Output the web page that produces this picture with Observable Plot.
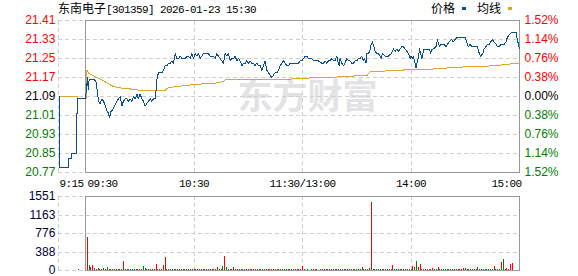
<!DOCTYPE html>
<html><head><meta charset="utf-8">
<script src="https://cdn.jsdelivr.net/npm/d3@7"></script>
<script src="https://cdn.jsdelivr.net/npm/@observablehq/plot@0.6"></script>
<style>
body{margin:0;background:#fff;}
#wrap{position:relative;width:578px;height:276px;overflow:hidden;background:#fff;}
#wrap svg{position:absolute;left:0;overflow:visible;}
.t{position:absolute;white-space:nowrap;color:#000;font-size:12px;line-height:14px;}
.cjk{font-family:"Noto Sans CJK SC";font-size:12px;}
.mono{font-family:"Liberation Mono";font-size:11px;letter-spacing:-0.6px;}
.sw{position:absolute;width:4px;height:3px;}
</style></head>
<body><div id="wrap">
<div class="t" style="left:58px;top:1px;"><span class="cjk">东南电子</span><span class="mono">[301359] 2026-01-23 15:30</span></div>
<div class="t cjk" style="left:431px;top:1px;">价格</div>
<div class="sw" style="left:462px;top:7px;background:#0b4f9c;"></div>
<div class="t cjk" style="left:477px;top:1px;">均线</div>
<div class="sw" style="left:508px;top:7px;background:#e0a526;"></div>
</div>
<script>
// ---------- data ----------
const preClose = 21.09;
const priceTicks = [21.41,21.33,21.25,21.17,21.09,21.01,20.93,20.85,20.77];
const pctLabels = ["1.52%","1.14%","0.76%","0.38%","0.00%","0.38%","0.76%","1.14%","1.52%"];
const timeTicks = [-15,0,60,120,180,240];
const timeLabels = ["9:15","09:30","10:30","11:30/13:00","14:00","15:00"];
const volTicks = [0,387.75,775.5,1163.25,1551];
const volLabels = ["0","388","776","1163","1551"];

// minutes from 09:30 (lunch removed), negative = call auction
const priceMinutes = [
-14.5,-14.5,-9.2,-9.2,-7.9,-7.9,-5,-5,-4.4,-4.4,
0,1.1,1.5,2,3.2,5,5.9,6.6,7.2,8.1,
9.1,10,10.9,11.8,12.7,13.3,14.2,14.9,16,17.4,
18.2,19.2,20.1,21,21.9,22.9,23.8,24.7,25.6,26.5,
27.5,28.4,29.3,30.2,31.2,32.1,33,33.9,34.8,35.8,
36.7,37.6,38.5,39.1,39.6,40.4,41.3,42.2,43.1,44.1,
45,45.9,46.8,47.8,48.6,49.6,50.5,51.4,52.4,53.3,
54.2,55.1,56.1,56.9,57.9,58.8,59.7,60.6,61.6,62.5,
63.4,64.3,65.2,66.2,67.1,68,68.9,69.9,70.8,71.7,
72.6,73.5,74.5,75.4,76.3,77.2,78.2,79,80,80.9,
81.8,82.8,83.7,84.6,85.5,86.5,87.3,88.3,89.2,90.1,
91,92,92.9,93.8,94.7,95.6,96.6,97.5,98.4,99.3,
100.3,101.2,102.1,103,103.9,104.9,105.8,106.7,107.6,108.6,
109.5,110.4,111.3,112.2,113.2,114.1,115.9,117.7,118.7,119.6,
120.5,121.5,122.4,123.3,124.2,125.1,126.1,127,127.9,128.8,
130.7,131.6,132.5,133.4,134.3,135.3,136.2,137.1,138,139,
139.5,140.3,140.8,141.7,142.6,143.5,144.5,145.4,146.3,147.2,
148.2,149.1,150,150.9,151.8,152.8,153.7,154.3,155.1,155.6,
156.5,157.5,158,158.7,159.5,160.2,161.2,162,163,163.5,
164.2,165.7,167.5,169,169.7,170.3,171.2,172.1,173,174,
174.9,175.8,176.7,177.7,178.6,179.5,180.1,180.6,181.3,182.2,
182.8,183.5,184.1,184.7,185.4,186,186.5,187.2,187.8,188.3,
189.1,190.2,190.9,191.5,192.4,193.9,194.6,195.7,196.5,197.6,
198.3,199.4,200.1,201.2,202.5,203.4,204.4,205.6,207.1,209.9,
210.8,211.7,212.7,213.6,215.4,216.7,217.8,218.6,219.7,220.4,
221.5,222.2,223.3,224.1,225.2,225.9,227,227.8,228.8,229.6,
230.7,231.5,232.6,233.3,234.4,235.7,237,238.1,238.8,240];
const prices = [
21.09,20.79,20.79,20.83,20.83,20.85,20.85,21.02,21.02,21.08,
21.08,21.17,21.12,21.16,21.16,21.16,21.15,21.11,21.07,21.06,
21.08,21.07,21.05,21.03,21.02,21.00,21.03,21.03,21.05,21.07,
21.08,21.09,21.05,21.07,21.08,21.08,21.07,21.08,21.07,21.09,
21.08,21.10,21.08,21.10,21.08,21.07,21.05,21.06,21.07,21.08,
21.07,21.08,21.08,21.12,21.17,21.19,21.19,21.19,21.20,21.22,
21.22,21.23,21.23,21.24,21.23,21.27,21.25,21.25,21.26,21.25,
21.25,21.25,21.26,21.26,21.25,21.27,21.25,21.27,21.26,21.27,
21.25,21.26,21.27,21.27,21.27,21.27,21.26,21.26,21.26,21.25,
21.27,21.26,21.25,21.24,21.23,21.27,21.26,21.27,21.24,21.25,
21.25,21.26,21.24,21.25,21.24,21.22,21.23,21.23,21.24,21.23,
21.24,21.23,21.23,21.22,21.23,21.22,21.22,21.20,21.22,21.24,
21.20,21.19,21.18,21.17,21.18,21.19,21.19,21.20,21.22,21.23,
21.24,21.23,21.22,21.22,21.23,21.23,21.23,21.23,21.24,21.24,
21.25,21.26,21.26,21.25,21.25,21.25,21.24,21.24,21.24,21.24,
21.23,21.23,21.24,21.23,21.24,21.24,21.25,21.24,21.24,21.26,
21.24,21.22,21.25,21.23,21.22,21.23,21.25,21.24,21.24,21.23,
21.23,21.24,21.24,21.25,21.25,21.26,21.24,21.25,21.23,21.27,
21.27,21.29,21.31,21.32,21.30,21.28,21.27,21.27,21.26,21.25,
21.27,21.26,21.26,21.27,21.28,21.29,21.28,21.29,21.28,21.29,
21.30,21.30,21.29,21.28,21.27,21.25,21.26,21.25,21.26,21.23,
21.21,21.24,21.25,21.29,21.27,21.25,21.27,21.29,21.29,21.29,
21.29,21.29,21.27,21.29,21.29,21.30,21.33,21.30,21.31,21.31,
21.31,21.30,21.31,21.32,21.33,21.32,21.33,21.34,21.34,21.34,
21.32,21.30,21.31,21.30,21.30,21.30,21.27,21.26,21.27,21.29,
21.30,21.31,21.31,21.32,21.33,21.32,21.31,21.30,21.30,21.31,
21.31,21.31,21.32,21.34,21.35,21.36,21.36,21.36,21.33,21.29];

const avgMinutes = [-14.5,-4.4,-4.4,0.8,0.8,1.7,3.5,5.4,9.1,12.7,15.5,20.1,25.6,31.2,38.5,44.1,45,49.6,55.1,62.5,71.7,76.3,77.2,87.3,113.2,119.6,134.3,150,155.6,157.5,171.2,176.7,190.9,203.4,210.8,225.5,230.2,234.8,240];
const avgPrices = [21.09,21.09,21.08,21.08,21.202,21.189,21.181,21.174,21.160,21.143,21.132,21.125,21.121,21.115,21.114,21.115,21.125,21.132,21.136,21.142,21.146,21.153,21.160,21.163,21.163,21.167,21.170,21.177,21.178,21.195,21.199,21.202,21.205,21.212,21.215,21.219,21.223,21.227,21.228];

// volume for minutes 1..240 (hands), r = up, g = down
const volumes = [
696,105,60,100,50,30,35,30,25,40,
30,70,24,20,22,18,25,20,22,20,
197,20,22,30,18,25,20,22,18,20,
24,84,40,20,22,18,20,22,126,20,
22,25,105,281,22,20,22,18,20,22,
20,18,22,20,24,20,18,22,20,22,
20,18,22,20,25,20,18,22,20,22,
20,22,63,30,22,84,295,56,24,22,
20,63,22,20,22,20,18,22,20,22,
20,18,22,20,22,20,18,22,20,22,
20,22,18,20,22,20,22,20,18,22,
20,22,20,22,20,22,20,18,22,84,
20,0,22,0,22,20,22,20,0,22,
20,22,20,22,20,18,22,20,22,20,
22,20,22,20,22,20,18,22,20,22,
20,22,63,20,22,20,42,1434,22,20,
22,20,22,20,22,20,22,20,22,105,
22,20,22,20,22,20,22,20,22,20,
84,56,190,56,126,22,20,22,20,22,
20,42,22,20,63,22,20,22,20,22,
20,22,20,22,20,22,20,22,42,42,
22,20,22,20,22,20,63,22,20,22,
20,22,20,22,20,84,22,20,22,169,
232,20,42,21,126,148,0,0,0,232];
const volDirs =
"rgrrgggrrg"+"ggrrrrrrrg"+"rrrgrrgrrr"+"rggrrrrrrr"+"grrrrggrgg"+"grggrggrgr"+
"rrrrrrrrrr"+"rrrgrgrggr"+"rrrrrrrrgr"+"rrrrrrgrrr"+"rrrrrrrrrr"+"rrrrgrrrrr"+
"rrgrrrrrrr"+"rrrrrgrrrr"+"rgrrrrggrr"+"rrrgrgrrgg"+"gggrgggrrr"+"rrrrgrrrgg"+
"rggrrggrgr"+"rrrrrrggrr"+"rrrrrrrrrr"+"rgrrrrrgrr"+"rrgrgrgrgr"+"grrrrrrrrg";
const auctionVolMinute = -4, auctionVol = 20, auctionDir = "g";

// ---------- rendering ----------
const RED = "#ff0000", GREEN = "#008000", BLUE = "#0b4f9c", GOLD = "#e0a526";
const GRID = "#cfcfcf", FRAME = "#999999";
const lbl = v => v > preClose + 1e-9 ? RED : v < preClose - 1e-9 ? GREEN : "#000000";

const priceData = priceMinutes.map((t, i) => ({t, p: prices[i]}));
const avgData = avgMinutes.map((t, i) => ({t, p: avgPrices[i]}));
const volData = volumes.map((v, i) => ({t: i + 1, v, d: volDirs[i]}));
volData.unshift({t: auctionVolMinute, v: auctionVol, d: auctionDir});

const xScale = {domain: [-15, 240], range: [57.875, 519], axis: null};
const crisp = {shapeRendering: "crispEdges"};
const mono = {fontSize: 11, fontFamily: "Liberation Mono", fill: "#000"};

const pricePlot = Plot.plot({
  width: 578, height: 190,
  marginLeft: 58, marginRight: 59, marginTop: 20, marginBottom: 18,
  x: xScale,
  y: {domain: [20.77, 21.41], range: [172, 20], axis: null},
  color: {type: "identity"},
  marks: [
    Plot.text(["东方财富"], {frameAnchor: "top-left", dx: 249, dy: 77, text: d => d,
      textAnchor: "middle", lineAnchor: "middle",
      fontSize: 35, fontWeight: "bold", fontFamily: "Noto Sans CJK SC", fill: "#e3e3e6"}),
    Plot.ruleY(priceTicks, {y: d => d, x1: -15, x2: 240, stroke: GRID, strokeDasharray: "4,3", ...crisp}),
    Plot.ruleX([-15, 60, 120, 180], {x: d => d, y1: 20.77, y2: 21.41, stroke: GRID, strokeDasharray: "4,3", ...crisp}),
    Plot.rect([0], {x1: 0, x2: 240, y1: 20.77, y2: 21.41, fill: "none", stroke: FRAME, ...crisp}),
    Plot.line(avgData, {x: "t", y: "p", stroke: GOLD, strokeWidth: 1, ...crisp}),
    Plot.line(priceData, {x: "t", y: "p", stroke: BLUE, strokeWidth: 1, ...crisp}),
    Plot.text(priceTicks, {x: -15, y: d => d, dx: -3, textAnchor: "end", text: d => d.toFixed(2),
      fill: lbl, fontSize: 12, fontFamily: "Liberation Sans"}),
    Plot.text(priceTicks, {x: 240, y: d => d, dx: 5, textAnchor: "start", text: (d, i) => pctLabels[i],
      fill: lbl, fontSize: 12, fontFamily: "Liberation Sans"}),
    Plot.text(timeTicks.slice(0, 1), {x: d => d, y: 20.77, dy: 11, dx: 1, textAnchor: "start",
      text: (d, i) => timeLabels[i], ...mono}),
    Plot.text(timeTicks.slice(1, 2), {x: d => d, y: 20.77, dy: 11, dx: 2, textAnchor: "start",
      text: (d, i) => timeLabels[i + 1], ...mono}),
    Plot.text(timeTicks.slice(2, 5), {x: d => d, y: 20.77, dy: 11, textAnchor: "middle",
      text: (d, i) => timeLabels[i + 2], ...mono}),
    Plot.text(timeTicks.slice(5), {x: d => d, y: 20.77, dy: 11, dx: 2, textAnchor: "end",
      text: (d, i) => timeLabels[i + 5], ...mono})
  ]
});
pricePlot.style.top = "0px";

const volPlot = Plot.plot({
  width: 578, height: 86,
  marginLeft: 58, marginRight: 59, marginTop: 6, marginBottom: 6,
  x: xScale,
  y: {domain: [0, 1551], range: [80, 6], axis: null},
  color: {type: "identity"},
  marks: [
    Plot.ruleY(volTicks, {y: d => d, x1: -15, x2: 240, stroke: GRID, strokeDasharray: "4,3", ...crisp}),
    Plot.ruleX([-15, 60, 120, 180], {x: d => d, y1: 0, y2: 1551, stroke: GRID, strokeDasharray: "4,3", ...crisp}),
    Plot.ruleX(volData, {x: "t", y1: 0, y2: "v", stroke: d => d.d === "r" ? RED : GREEN, strokeWidth: 1, ...crisp}),
    Plot.rect([0], {x1: 0, x2: 240, y1: 0, y2: 1551, fill: "none", stroke: FRAME, ...crisp}),
    Plot.text(volTicks, {x: -15, y: d => d, dx: -3, textAnchor: "end", text: (d, i) => volLabels[i],
      fill: "#00003a", fontSize: 12, fontFamily: "Liberation Sans"})
  ]
});
volPlot.style.top = "190px";

const wrap = document.getElementById("wrap");
wrap.insertBefore(volPlot, wrap.firstChild);
wrap.insertBefore(pricePlot, wrap.firstChild);
pricePlot.querySelectorAll('g[font-family="Liberation Mono"]').forEach(g => g.setAttribute("letter-spacing", "-0.6"));
</script>
</body></html>
